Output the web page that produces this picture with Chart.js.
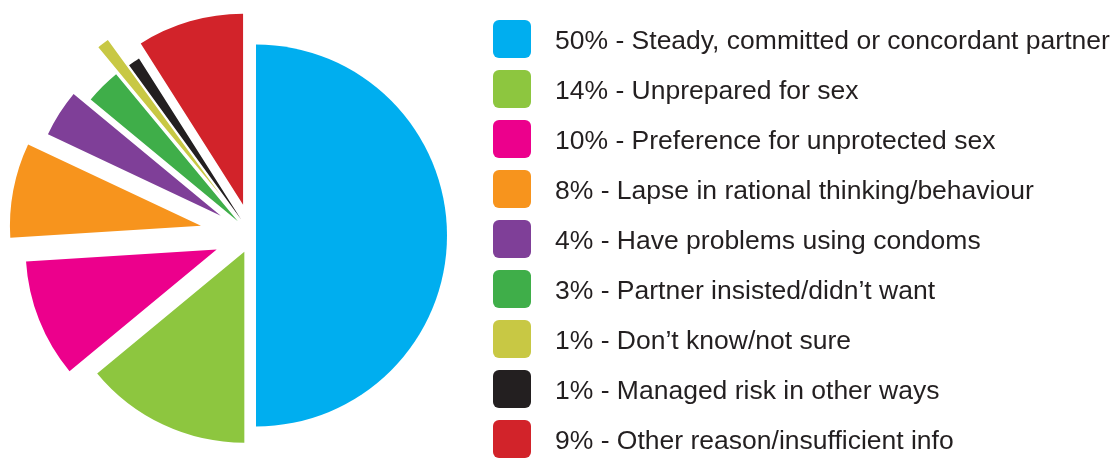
<!DOCTYPE html>
<html>
<head>
<meta charset="utf-8">
<title>Reasons for not using a condom</title>
<script src="https://cdn.jsdelivr.net/npm/chart.js@4.4.1/dist/chart.umd.min.js"></script>
<style>
  html, body { margin: 0; padding: 0; background: #fff; }
  #wrap { position: relative; width: 1115px; height: 459px; overflow: hidden; }
  #pieChart { position: absolute; left: 0; top: 0; }
  #legend {
    position: absolute; left: 493px; top: 20px; margin: 0; padding: 0; list-style: none;
    font-family: "Liberation Sans", Arial, sans-serif; font-size: 26.5px; color: #231f20;
  }
  #legend li { display: flex; align-items: center; height: 38px; margin-bottom: 12px; white-space: nowrap; }
  #legend .swatch { width: 38px; height: 38px; border-radius: 6px; margin-right: 24px; flex: none; }
  #legend .text { position: relative; top: 1px; }
</style>
</head>
<body>
<div id="wrap">
  <canvas id="pieChart" width="1115" height="459"></canvas>
  <ul id="legend"></ul>
</div>
<script>
// === DATA ===
const categories = [
    'Steady, committed or concordant partner',
    'Unprepared for sex',
    'Preference for unprotected sex',
    'Lapse in rational thinking/behaviour',
    'Have problems using condoms',
    'Partner insisted/didn\u2019t want',
    'Don\u2019t know/not sure',
    'Managed risk in other ways',
    'Other reason/insufficient info'
];
const percentages = [50, 14, 10, 8, 4, 3, 1, 1, 9];

// === STYLE ===
const sliceColours = ['#00aeef', '#8dc63f', '#ec008c', '#f7941d', '#7f3f98', '#3fae49', '#c8c844', '#231f20', '#d2232a'];
// how far each slice is pulled out from the centre, in pixels
const explodePx = [4, 18, 38, 52, 37, 20, 52, 19, 32];

document.addEventListener('DOMContentLoaded', function() {

    /**
     * Pull every slice straight out along its middle angle
     * (the built-in offset option also shrinks the slice, so move the arc instead)
     */
    const explodePlugin = {
        id: 'explodeSlices',
        afterDatasetsUpdate(chart) {
            const meta = chart.getDatasetMeta(0);
            meta.data.forEach((arc, i) => {
                const mid = (arc.startAngle + arc.endAngle) / 2;
                arc.x += Math.cos(mid) * explodePx[i];
                arc.y += Math.sin(mid) * explodePx[i];
            });
        }
    };

    const ctx = document.getElementById('pieChart');
    new Chart(ctx.getContext('2d'), {
        type: 'pie',
        data: {
            labels: categories,
            datasets: [{
                data: percentages,
                backgroundColor: sliceColours,
                borderWidth: 0
            }]
        },
        options: {
            responsive: false,
            animation: false,
            events: [],
            radius: 191,
            layout: {
                padding: { left: 62, right: 673, top: 45, bottom: 33 }
            },
            plugins: {
                legend: { display: false },
                tooltip: { enabled: false }
            }
        },
        plugins: [explodePlugin]
    });

    // === LEGEND ===
    const legend = document.getElementById('legend');
    categories.forEach((cat, i) => {
        const li = document.createElement('li');
        const box = document.createElement('span');
        box.className = 'swatch';
        box.style.background = sliceColours[i];
        const txt = document.createElement('span');
        txt.className = 'text';
        txt.textContent = percentages[i] + '% - ' + cat;
        li.appendChild(box);
        li.appendChild(txt);
        legend.appendChild(li);
    });
});
</script>
</body>
</html>
